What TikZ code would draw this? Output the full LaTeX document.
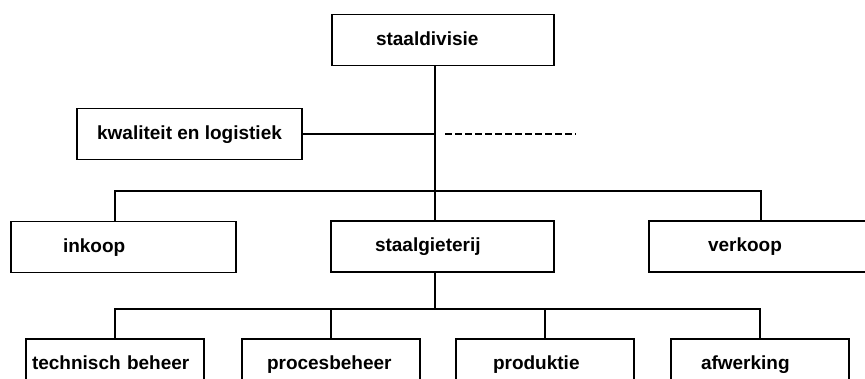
\documentclass[tikz,border=0pt]{standalone}
\usepackage{fontspec}
\setmainfont{Liberation Sans}
\usetikzlibrary{positioning}
\tikzset{
	vak/.style={
		rectangle,
		draw=black, line width=1.6pt,
		minimum width=223pt,
		minimum height=51pt,
		text height=14pt, text depth=4pt,
		font=\bfseries\fontsize{19}{22}\selectfont},
	klein/.style={
		vak,
		minimum width=178pt},
	lijn/.style={draw, line width=1.5pt},
	stippel/.style={draw, line width=1.5pt, dash pattern=on 7pt off 3pt},
}

\begin{document}
\begin{tikzpicture}[x=1pt, y=-1pt]
	\useasboundingbox (0,0) rectangle (865,378);
	% top
	\node[vak, minimum width=222pt, align=left, inner xsep=44pt, text width=134pt] (divisie) at (443,40) {staaldivisie};
	\node[vak, minimum width=225pt] (kwaliteit) at (189.5,134) {kwaliteit en logistiek};
	% middle row
	\node[vak, minimum width=225pt, align=left, inner xsep=52pt, text width=121pt] (inkoop) at (123.5,247) {inkoop};
	\node[vak, align=left, inner xsep=44pt, text width=135pt] (gieterij) at (442.5,246.5) {staalgieterij};
	\node[vak, minimum width=224pt, align=left, inner xsep=59pt, text width=106pt] (verkoop) at (761,246.5) {verkoop};
	% bottom row
	\node[klein, align=left, inner xsep=6pt, text width=166pt] (techniek) at (115,364.5) {technisch beheer};
	\node[klein, align=left, inner xsep=25pt, text width=128pt] (proces) at (331,364.5) {procesbeheer};
	\node[klein, align=left, inner xsep=37pt, text width=104pt] (produktie) at (545,364.5) {produktie};
	\node[klein, align=left, inner xsep=30pt, text width=118pt] (afwerking) at (760,364.5) {afwerking};

	\coordinate (stam) at (435,191);
	\coordinate (tak) at (435,309);
	\coordinate (stippeleind) at (576,0);

	\path[lijn] (divisie.south -| stam) -- (gieterij.north -| stam);
	\path[lijn] (kwaliteit.east) -- (kwaliteit.east -| stam);
	\path[stippel] ([xshift=10pt]kwaliteit.east -| stam) -- (kwaliteit.east -| stippeleind);
	\path[lijn] (inkoop.north -| techniek) |- (stam) -| (verkoop.north);
	\path[lijn] (gieterij.south -| tak) -- (tak);
	\path[lijn] (techniek.north) |- (tak) -| (afwerking.north);
	\path[lijn] (tak -| proces) -- (proces.north);
	\path[lijn] (tak -| produktie) -- (produktie.north);
\end{tikzpicture}
\end{document}
